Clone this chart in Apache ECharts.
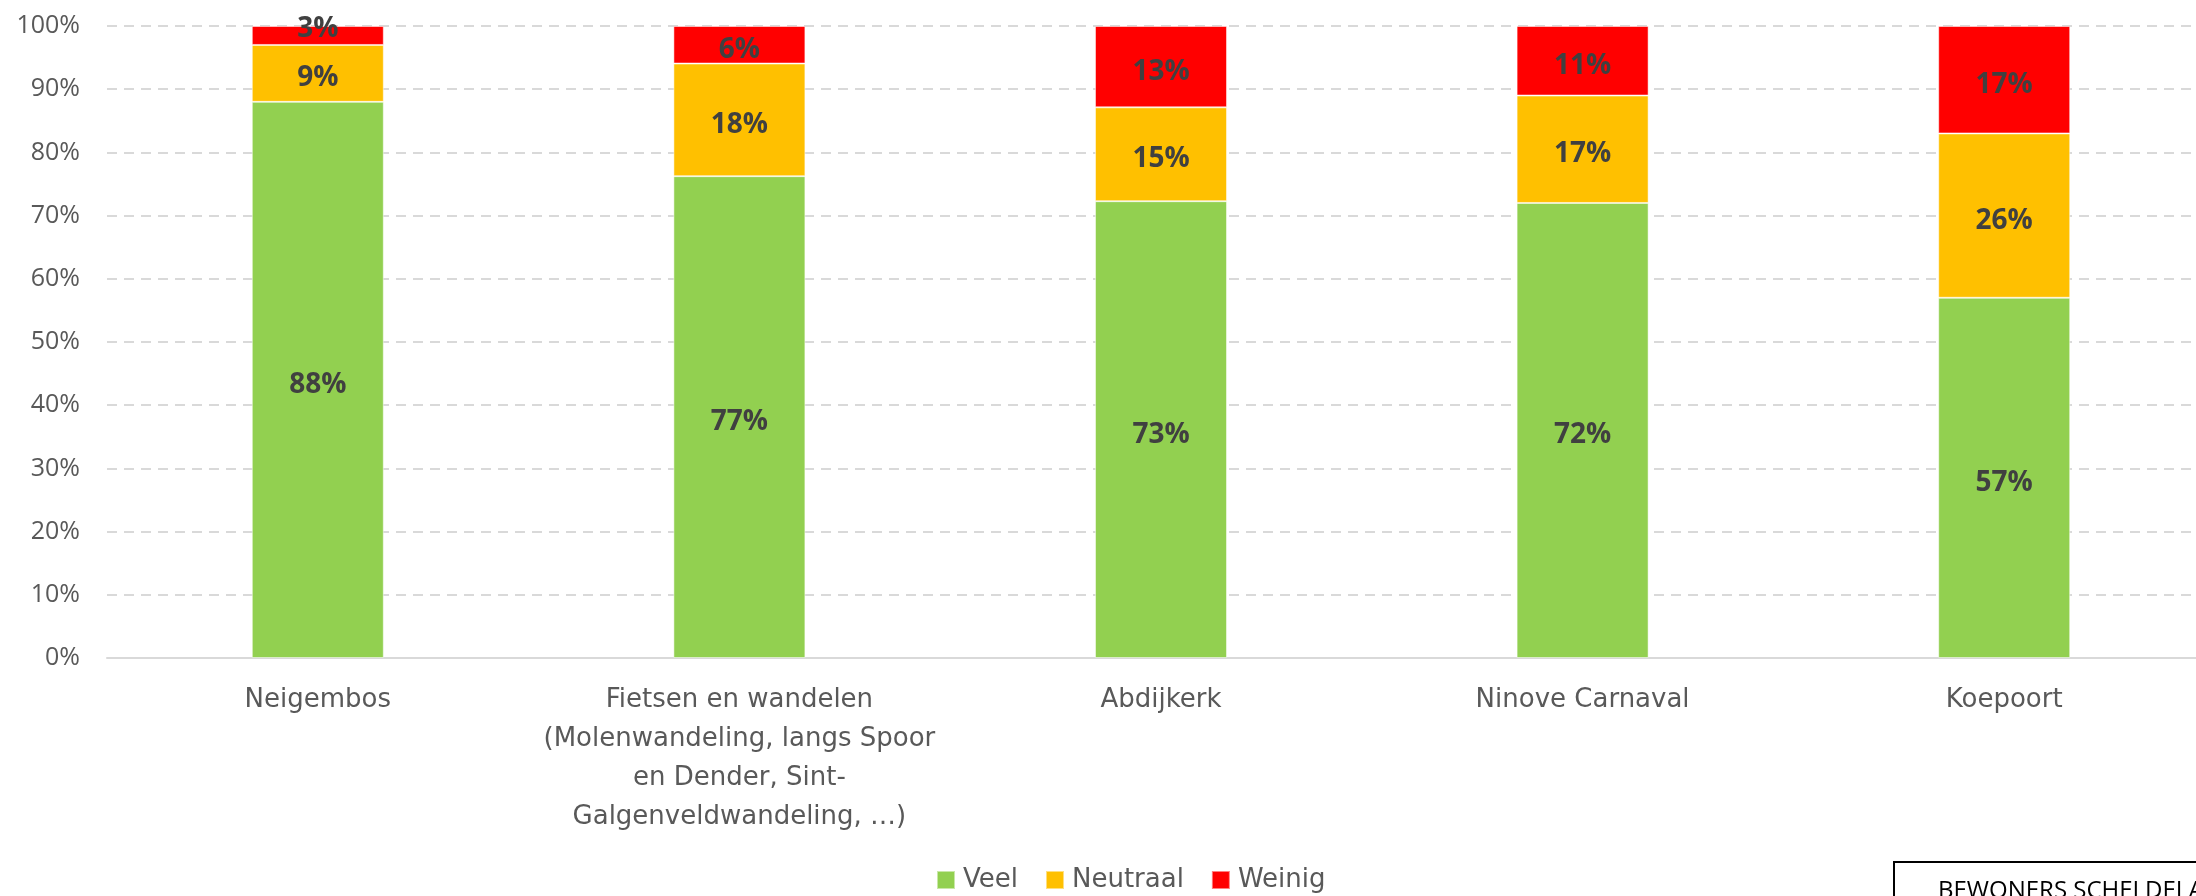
<!DOCTYPE html>
<html>
<head>
<meta charset="utf-8">
<title>Waardering bezienswaardigheden</title>
<script src="https://cdn.jsdelivr.net/npm/echarts@6/dist/echarts.min.js"></script>
<style>
  html, body { margin: 0; padding: 0; background: #ffffff; }
  #chart { width: 2196px; height: 896px; }
</style>
</head>
<body>
<div id="chart"></div>
<script>
// Categories (line breaks as shown under the axis)
const categories = [
  'Neigembos',
  'Fietsen en wandelen\n(Molenwandeling, langs Spoor\nen Dender, Sint-\nGalgenveldwandeling, …)',
  'Abdijkerk',
  'Ninove Carnaval',
  'Koepoort'
];

// Shares per answer, in percent as labelled
const veel     = [88, 77, 73, 72, 57];
const neutraal = [9, 18, 15, 17, 26];
const weinig   = [3, 6, 13, 11, 17];

const seriesNames = ['Veel', 'Neutraal', 'Weinig'];
const seriesColors = ['#92d050', '#ffc000', '#ff0000'];

// 100% stacked: each column is scaled so its parts add up to 100
const totals = categories.map((_, i) => veel[i] + neutraal[i] + weinig[i]);
const rawSets = [veel, neutraal, weinig];

const chart = echarts.init(document.getElementById('chart'), null, { renderer: 'canvas' });

const labelFont = '"DejaVu Sans", Verdana, sans-serif';
const valueFont = '"Open Sans", "Noto Sans", sans-serif';

const series = rawSets.map((arr, s) => ({
  name: seriesNames[s],
  type: 'bar',
  stack: 'total',
  barWidth: 132,
  itemStyle: { color: seriesColors[s], borderColor: 'rgba(255,255,255,0.5)', borderWidth: 1 },
  label: {
    show: true,
    position: 'inside',
    offset: [0, 5],
    color: '#404040',
    fontFamily: valueFont,
    fontWeight: 'bold',
    fontSize: 28,
    formatter: p => arr[p.dataIndex] + '%'
  },
  emphasis: { disabled: true },
  data: arr.map((v, i) => {
    const share = v / totals[i] * 100;
    // very thin segments: lift the label so it sits over the top edge
    return share < 5 ? { value: share, label: { offset: [0, -6] } } : share;
  })
}));

chart.setOption({
  animation: false,
  backgroundColor: '#ffffff',
  grid: {
    left: 107,
    top: 26,
    width: 2108,
    height: 632,
    containLabel: false,
    outerBoundsMode: 'none'
  },
  legend: {
    data: seriesNames,
    left: 931,
    top: 862,
    icon: 'rect',
    itemWidth: 18,
    itemHeight: 18,
    itemGap: 27,
    textStyle: { color: '#595959', fontSize: 26, fontFamily: labelFont, padding: [0, 0, 0, 3] }
  },
  xAxis: {
    type: 'category',
    data: categories,
    axisLine: { show: true, lineStyle: { color: '#d9d9d9', width: 2 } },
    axisTick: { show: false },
    axisLabel: {
      interval: 0,
      color: '#595959',
      fontSize: 26,
      lineHeight: 39,
      margin: 23,
      fontFamily: labelFont
    }
  },
  yAxis: {
    type: 'value',
    min: 0,
    max: 100,
    interval: 10,
    axisLine: { show: false },
    axisTick: { show: false },
    axisLabel: {
      formatter: '{value}%',
      color: '#595959',
      fontSize: 25,
      margin: 27,
      fontFamily: valueFont
    },
    splitLine: { lineStyle: { color: '#d9d9d9', width: 2, type: [10, 7] } }
  },
  series: series,
  graphic: [
    {
      type: 'rect',
      left: 1893,
      top: 861,
      shape: { width: 400, height: 120 },
      style: { fill: '#ffffff', stroke: '#000000', lineWidth: 2 },
      z: 10
    },
    {
      type: 'text',
      left: 1938,
      top: 879,
      style: { text: 'BEWONERS SCHELDELAND', fill: '#000000', font: '24px "Open Sans", sans-serif' },
      z: 11
    }
  ]
});
</script>
</body>
</html>
